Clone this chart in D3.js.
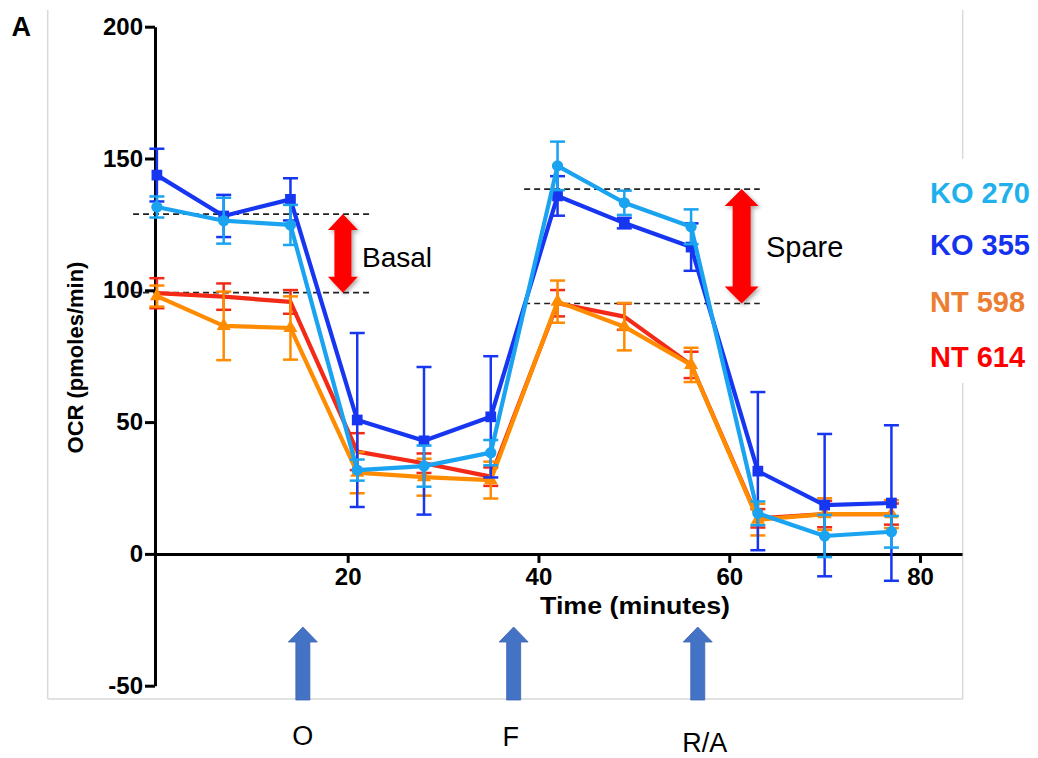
<!DOCTYPE html>
<html>
<head>
<meta charset="utf-8">
<script src="https://cdn.jsdelivr.net/npm/d3@7"></script>
<style>
  html, body { margin: 0; padding: 0; background: #fff; }
  svg { display: block; font-family: "Liberation Sans", Arial, sans-serif; }
</style>
</head>
<body>
<script>
// ---- data ----
const times = [0, 7, 14, 21, 28, 35, 42, 49, 56, 63, 70, 77];
const ko270 = [131.6, 126.4, 124.8, 31.8, 33.3, 38.4, 147.2, 133.2, 124.1, 15.4, 6.8, 8.4];
const ko270Err = [4, 8.7, 7.6, 4, 7.8, 4.8, 9.2, 4.6, 6.6, 4.5, 8, 6];
const ko355 = [143.7, 128.2, 134.5, 50.8, 42.9, 52, 135.8, 125.5, 116.4, 31.4, 18.5, 19.3];
const ko355Err = [10, 8, 8, 33, 28, 23, 7.5, 2, 9, 30, 27, 29.5];
const nt598 = [97.8, 86.5, 85.7, 30.8, 29.1, 28, 95.7, 86.2, 71.7, 13, 15.1, 15.1];
const nt598Err = [4, 13, 12, 7.8, 7, 7, 8, 9, 6.5, 6, 6, 5.3];
const nt614 = [98.9, 97.6, 95.6, 38.8, 34.4, 29.3, 95.1, 90, 71.7, 13.5, 15.1, 15.1];
const nt614Err = [5.7, 5, 4.5, 7, 3.7, 3.5, 5, 5, 5, 3.5, 5, 4];

const seriesNames = ["KO 270", "KO 355", "NT 598", "NT 614"];
const yTicks = [-50, 0, 50, 100, 150, 200];
const xTicks = [20, 40, 60, 80];

// annotation values
const basalLevels = [128.9, 99.1];     // dashed lines (OCR)
const basalSpan = [-2.5, 22.5];        // time extent of dashed lines
const spareLevels = [138.4, 95];
const spareSpan = [38.5, 63.2];
const injections = [{label: "O", t: 15.3}, {label: "F", t: 37.4}, {label: "R/A", t: 56.7}];

// ---- setup ----
const W = 1038, H = 758;
const svg = d3.select("body").append("svg").attr("width", W).attr("height", H);
svg.append("rect").attr("width", W).attr("height", H).attr("fill", "#fff");

const defs = svg.append("defs");
const f = defs.append("filter").attr("id", "shadow").attr("x", "-50%").attr("y", "-20%").attr("width", "200%").attr("height", "140%");
f.append("feDropShadow").attr("dx", 2).attr("dy", 2).attr("stdDeviation", 2).attr("flood-color", "#000").attr("flood-opacity", 0.35);

const x = d3.scaleLinear().domain([-0.2, 84.4]).range([155, 962]);
const y = d3.scaleLinear().domain([-50, 200]).range([685.7, 26.7]);

// frame (grey panel lines)
const frameC = "#d9d9d9";
svg.append("line").attr("x1", 47.7).attr("x2", 47.7).attr("y1", 10).attr("y2", 699).attr("stroke", frameC).attr("stroke-width", 1.5);
svg.append("line").attr("x1", 47.7).attr("x2", 962.7).attr("y1", 699).attr("y2", 699).attr("stroke", frameC).attr("stroke-width", 1.5);
svg.append("line").attr("x1", 962.7).attr("x2", 962.7).attr("y1", 10).attr("y2", 159).attr("stroke", frameC).attr("stroke-width", 1.5);
svg.append("line").attr("x1", 962.7).attr("x2", 962.7).attr("y1", 383).attr("y2", 699).attr("stroke", frameC).attr("stroke-width", 1.5);

// panel letter
svg.append("text").attr("x", 11.5).attr("y", 36).attr("font-size", 27).attr("font-weight", "bold").text("A");

// ---- axes ----
const yAxis = svg.append("g").attr("transform", `translate(${x.range()[0]},0)`)
  .call(d3.axisLeft(y).tickValues(yTicks).tickSize(10).tickSizeOuter(0).tickPadding(2).tickFormat(d => String(d)));
const xAxis = svg.append("g").attr("transform", `translate(0,${y(0)})`)
  .call(d3.axisBottom(x).tickValues(xTicks).tickSize(9).tickSizeOuter(0).tickPadding(5).tickFormat(d => String(d)));
[yAxis, xAxis].forEach(g => {
  g.select(".domain").attr("stroke", "#000").attr("stroke-width", 3);
  g.selectAll(".tick line").attr("stroke", "#000").attr("stroke-width", 3);
  g.selectAll(".tick text").attr("fill", "#000").attr("font-size", 24).attr("font-weight", "bold")
    .attr("font-family", "'Liberation Sans', Arial, sans-serif");
});

svg.append("text").attr("transform", "translate(83.3,357.5) rotate(-90)")
  .attr("text-anchor", "middle").attr("font-size", 22).attr("font-weight", "bold").text("OCR (pmoles/min)");
svg.append("text").attr("x", 635).attr("y", 613.5).attr("text-anchor", "middle")
  .attr("font-size", 23).attr("font-weight", "bold")
  .attr("textLength", 190).attr("lengthAdjust", "spacingAndGlyphs").text("Time (minutes)");

// ---- annotations: dashed lines ----
function dashed(levels, span) {
  levels.forEach(v => {
    svg.append("line").attr("x1", x(span[0])).attr("x2", x(span[1]))
      .attr("y1", y(v)).attr("y2", y(v))
      .attr("stroke", "#222").attr("stroke-width", 1.6).attr("stroke-dasharray", "6,4");
  });
}
dashed(basalLevels, basalSpan);
dashed(spareLevels, spareSpan);

// ---- series ----
const series = [
  {name: "NT 614", v: nt614, e: nt614Err, color: "#f22a17", sym: null},
  {name: "NT 598", v: nt598, e: nt598Err, color: "#ff8c00", sym: d3.symbolTriangle},
  {name: "KO 355", v: ko355, e: ko355Err, color: "#1736f2", sym: d3.symbolSquare},
  {name: "KO 270", v: ko270, e: ko270Err, color: "#1aa3f0", sym: d3.symbolCircle}
];

const line = d3.line().x(d => x(d.t)).y(d => y(d.v));

series.forEach(s => {
  const pts = times.map((t, i) => ({t, v: s.v[i], e: s.e[i]}));
  const g = svg.append("g");
  const eb = g.selectAll(".eb").data(pts).enter().append("g");
  eb.append("line").attr("x1", d => x(d.t)).attr("x2", d => x(d.t))
    .attr("y1", d => y(d.v - d.e)).attr("y2", d => y(d.v + d.e))
    .attr("stroke", s.color).attr("stroke-width", 2.5);
  [1, -1].forEach(sign => {
    eb.append("line").attr("x1", d => x(d.t) - 7.5).attr("x2", d => x(d.t) + 7.5)
      .attr("y1", d => y(d.v + sign * d.e)).attr("y2", d => y(d.v + sign * d.e))
      .attr("stroke", s.color).attr("stroke-width", 2.5);
  });
  g.append("path").datum(pts).attr("d", line).attr("fill", "none")
    .attr("stroke", s.color).attr("stroke-width", 4.2).attr("stroke-linejoin", "round");
  if (s.sym) {
    const sz = s.sym === d3.symbolSquare ? 115 : (s.sym === d3.symbolCircle ? 100 : 85);
    g.selectAll(".m").data(pts).enter().append("path")
      .attr("transform", d => `translate(${x(d.t)},${y(d.v)})`)
      .attr("d", d3.symbol().type(s.sym).size(sz)).attr("fill", s.color);
  }
});

// ---- red double arrows ----
function doubleArrow(t, vTop, vBot, headW, headH, shaftW) {
  const cx = x(t), y1 = y(vTop), y2 = y(vBot);
  const pts = [
    [cx, y1], [cx + headW / 2, y1 + headH], [cx + shaftW / 2, y1 + headH],
    [cx + shaftW / 2, y2 - headH], [cx + headW / 2, y2 - headH], [cx, y2],
    [cx - headW / 2, y2 - headH], [cx - shaftW / 2, y2 - headH],
    [cx - shaftW / 2, y1 + headH], [cx - headW / 2, y1 + headH]
  ];
  svg.append("polygon").attr("points", pts.map(p => p.join(",")).join(" "))
    .attr("fill", "#ff0000").attr("filter", "url(#shadow)");
}
doubleArrow(19.5, basalLevels[0], basalLevels[1], 30, 16, 17);
doubleArrow(61.3, spareLevels[0], spareLevels[1], 34, 17, 18);

svg.append("text").attr("x", 362).attr("y", 266.7).attr("font-size", 28).text("Basal");
svg.append("text").attr("x", 766).attr("y", 256.7).attr("font-size", 29).text("Spare");

// ---- legend ----
const legendColors = ["#1fb1ec", "#1432f0", "#ed7d31", "#ff0000"];
const legendY = [202.7, 255, 311.7, 366.7];
seriesNames.forEach((n, i) => {
  svg.append("text").attr("x", 930).attr("y", legendY[i]).attr("font-size", 29)
    .attr("font-weight", "bold").attr("fill", legendColors[i]).text(n);
});

// ---- injection arrows ----
const labelY = [745, 746, 752];
const labelDx = [0, -3, 7];
injections.forEach((inj, i) => {
  const cx = x(inj.t), tip = 627, hb = 642, bot = 700, hw = 14.5, sw = 7;
  const pts = [[cx, tip], [cx + hw, hb], [cx + sw, hb], [cx + sw, bot], [cx - sw, bot], [cx - sw, hb], [cx - hw, hb]];
  svg.append("polygon").attr("points", pts.map(p => p.join(",")).join(" "))
    .attr("fill", "#4472c4").attr("stroke", "#3a64b0").attr("stroke-width", 0.8);
  svg.append("text").attr("x", cx + labelDx[i]).attr("y", labelY[i]).attr("text-anchor", "middle")
    .attr("font-size", 27).text(inj.label);
});
</script>
</body>
</html>
